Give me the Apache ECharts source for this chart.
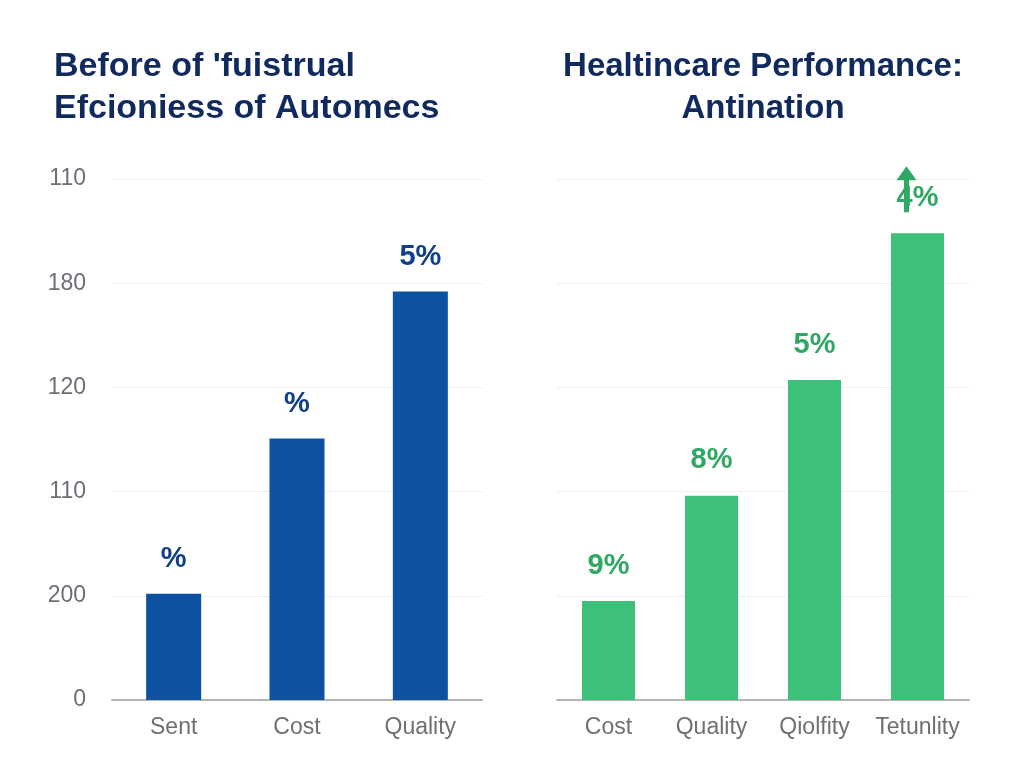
<!DOCTYPE html>
<html>
<head>
<meta charset="utf-8">
<script src="https://cdn.jsdelivr.net/npm/echarts@6/dist/echarts.min.js"></script>
<style>
  html, body { margin: 0; padding: 0; background: #fff; }
  #main { width: 1024px; height: 768px; }
</style>
</head>
<body>
<div id="main"></div>
<script>
// left panel
var leftCategories = ['Sent', 'Cost', 'Quality'];
var leftValues = [1.02, 2.51, 3.92];
var leftLabels = ['%', '%', '5%'];
// right panel
var rightCategories = ['Cost', 'Quality', 'Qiolfity', 'Tetunlity'];
var rightValues = [0.95, 1.96, 3.07, 4.48];
var rightLabels = ['9%', '8%', '5%', '4%'];
// y tick labels, bottom to top
var tickLabels = ['0', '200', '110', '120', '180', '110'];

var blue = '#0d52a0';
var green = '#3cc07a';

var chart = echarts.init(document.getElementById('main'));

function valueAxis(idx, showLabels) {
    return {
        type: 'value',
        gridIndex: idx,
        min: 0,
        max: 5,
        interval: 1,
        axisLine: { show: false },
        axisTick: { show: false },
        axisLabel: {
            show: showLabels,
            margin: 26,
            color: '#6b6f76',
            fontSize: 23,
            fontFamily: 'Liberation Sans',
            formatter: function (v) { return tickLabels[Math.round(v)]; }
        },
        splitLine: { lineStyle: { color: '#efefef', width: 1 } }
    };
}

function catAxis(idx, cats) {
    return {
        type: 'category',
        gridIndex: idx,
        data: cats,
        axisLine: { lineStyle: { color: '#b4b4b4', width: 2 } },
        axisTick: { show: false },
        axisLabel: {
            interval: 0,
            hideOverlap: false,
            margin: 16,
            color: '#707070',
            fontSize: 23,
            fontFamily: 'Liberation Sans'
        }
    };
}

chart.setOption({
    backgroundColor: '#ffffff',
    animation: false,
    title: [{
        text: "Before of 'fuistrual\nEfcioniess of Automecs",
        left: 49,
        top: 41,
        textStyle: {
            color: '#102a5e',
            fontSize: 34,
            fontWeight: 'bold',
            fontFamily: 'Liberation Sans',
            lineHeight: 42
        }
    }, {
        text: 'Healtincare Performance:\nAntination',
        left: 758,
        top: 41,
        textAlign: 'center',
        textStyle: {
            color: '#102a5e',
            fontSize: 33,
            fontWeight: 'bold',
            fontFamily: 'Liberation Sans',
            lineHeight: 42
        }
    }],
    grid: [
        { left: 112, width: 370, top: 179, bottom: 68 },
        { left: 557, width: 412, top: 179, bottom: 68 }
    ],
    xAxis: [catAxis(0, leftCategories), catAxis(1, rightCategories)],
    yAxis: [valueAxis(0, true), valueAxis(1, false)],
    series: [{
        type: 'bar',
        xAxisIndex: 0,
        yAxisIndex: 0,
        data: leftValues,
        barWidth: 55,
        itemStyle: { color: blue },
        label: {
            show: true,
            position: 'top',
            distance: 20,
            color: '#0e3f87',
            fontSize: 29,
            fontWeight: 'bold',
            fontFamily: 'Liberation Sans',
            formatter: function (p) { return leftLabels[p.dataIndex]; }
        }
    }, {
        type: 'bar',
        xAxisIndex: 1,
        yAxisIndex: 1,
        data: rightValues,
        barWidth: 53,
        itemStyle: { color: green },
        label: {
            show: true,
            position: 'top',
            distance: 21,
            color: '#2fa864',
            fontSize: 29,
            fontWeight: 'bold',
            fontFamily: 'Liberation Sans',
            formatter: function (p) { return rightLabels[p.dataIndex]; }
        },
        markPoint: {
            silent: true,
            label: { show: false },
            data: [{
                coord: [rightCategories[3], rightValues[3]],
                symbol: 'path://M10,0 L20,14 L12.5,14 L12.5,46 L7.5,46 L7.5,14 L0,14 Z',
                symbolSize: [20, 46],
                symbolOffset: [-11, -44],
                itemStyle: { color: '#2fa864' }
            }]
        }
    }]
});
</script>
</body>
</html>
